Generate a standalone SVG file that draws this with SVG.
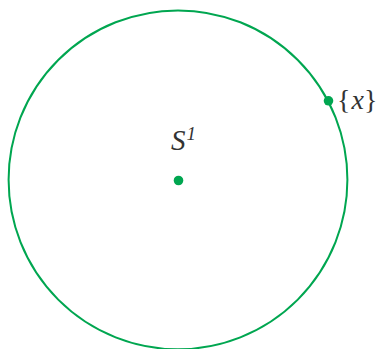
<svg xmlns="http://www.w3.org/2000/svg" width="377" height="349" viewBox="0 0 377 349">
<style>
.c{fill:none;stroke:#00A650;stroke-width:2}
.d{fill:#00A650}
.t{font-family:"Liberation Serif","DejaVu Serif",serif;fill:#333}
</style>
<rect width="377" height="349" fill="#fff"/>
<g id="circle"><circle class="c" cx="178" cy="179.8" r="169.4"/></g>
<g id="center"><circle class="d" cx="178.5" cy="180.5" r="4.8"/></g>
<g id="point"><circle class="d" cx="328.5" cy="100.8" r="4.8"/></g>
<g id="label-s1"><text class="t" x="171" y="149.5" font-size="29" font-style="italic">S<tspan font-size="19" dy="-10" dx="1">1</tspan></text></g>
<g id="label-x"><text class="t" x="337" y="108.5" font-size="28">{<tspan font-style="italic" dx="1">x</tspan>}</text></g>
</svg>
